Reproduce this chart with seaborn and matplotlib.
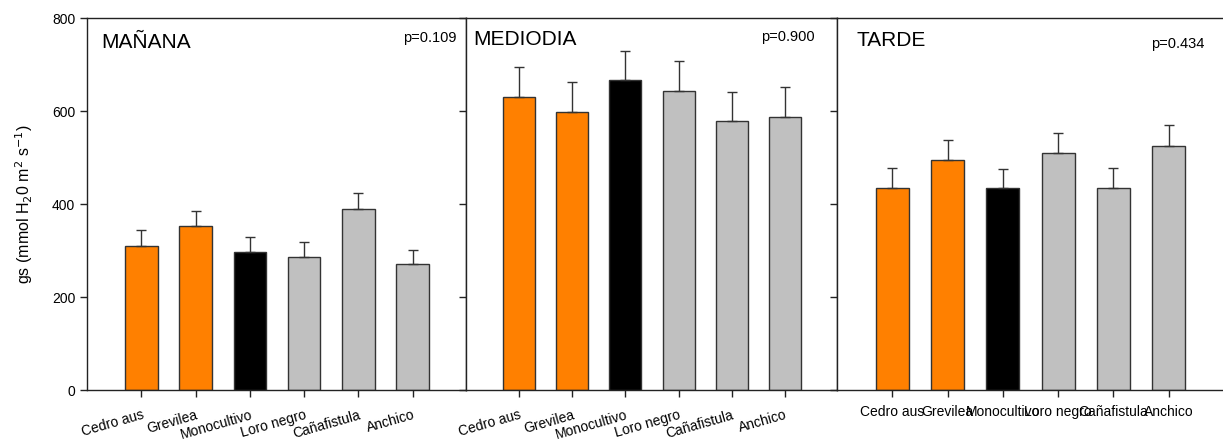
import numpy as np
import matplotlib
matplotlib.use("Agg")
import matplotlib.pyplot as plt
import seaborn as sns

sns.set_style("white")
plt.rcParams['font.family'] = ['Liberation Sans', 'DejaVu Sans']
plt.rcParams['text.color'] = 'black'
plt.rcParams['xtick.color'] = 'black'
plt.rcParams['ytick.color'] = 'black'
plt.rcParams['axes.labelcolor'] = 'black'

# Data
species = ["Cedro aus", "Grevilea", "Monocultivo", "Loro negro", "Cañafistula", "Anchico"]
bar_colors = ["#FF8000", "#FF8000", "#000000", "#C0C0C0", "#C0C0C0", "#C0C0C0"]

periods = ["MAÑANA", "MEDIODIA", "TARDE"]
p_values = ["p=0.109", "p=0.900", "p=0.434"]

manana_mean = [310, 353, 297, 287, 389, 270]
manana_se = [34, 33, 33, 32, 34, 32]
mediodia_mean = [631, 598, 667, 644, 578, 588]
mediodia_se = [63, 64, 63, 63, 62, 63]
tarde_mean = [435, 495, 434, 510, 435, 525]
tarde_se = [43, 42, 41, 43, 42, 44]

means = [manana_mean, mediodia_mean, tarde_mean]
ses = [manana_se, mediodia_se, tarde_se]

fig, axes = plt.subplots(1, 3, figsize=(12.23, 4.40), dpi=100, sharey=True,
                         gridspec_kw={'width_ratios': [379, 371, 386]})
fig.subplots_adjust(left=0.0711, right=1.0, top=0.959, bottom=0.1136, wspace=0)

edge = "#333333"
title_pos = [(0.039, 0.935), (0.02, 0.943), (0.051, 0.94)]
p_pos = [(0.974, 0.947), (0.94, 0.949), (0.951, 0.93)]

for i, ax in enumerate(axes):
    sns.barplot(x=species, y=means[i], hue=species, palette=bar_colors, legend=False,
                width=0.6, saturation=1, edgecolor=edge, linewidth=1, ax=ax)
    x = np.arange(len(species))
    ax.errorbar(x, means[i], yerr=[np.zeros(len(species)), ses[i]], fmt='none',
                ecolor=edge, elinewidth=1, capsize=3.5, capthick=1)
    ax.set_xlim(-1, 5.98)
    ax.set_ylim(0, 800)
    ax.set_yticks([0, 200, 400, 600, 800])
    for s in ax.spines.values():
        s.set_color("#222222")
        s.set_linewidth(1)
    ax.tick_params(axis='both', direction='out', length=5, width=1, color="#222222",
                   labelsize=10, bottom=True, left=True)
    ax.text(title_pos[i][0], title_pos[i][1], periods[i], transform=ax.transAxes,
            fontsize=15, va='center', ha='left')
    ax.text(p_pos[i][0], p_pos[i][1], p_values[i], transform=ax.transAxes, fontsize=10.5,
            va='center', ha='right')
    ax.set_xticks(x)
    if i < 2:
        ax.set_xticklabels(species, rotation=16, ha='right', rotation_mode='anchor')
        ax.tick_params(axis='x', pad=8)
    else:
        ax.set_xticklabels(species, rotation=0, ha='center')
        ax.spines['right'].set_visible(False)
        ax.tick_params(axis='x', pad=6)
    ax.set_xlabel("")

axes[0].set_ylabel("gs (mmol H$_2$0 m$^2$ s$^{-1}$)", fontsize=11.5, labelpad=12)
for ax in axes[1:]:
    ax.set_ylabel("")
    ax.tick_params(axis='y', labelleft=False)

fig.savefig("out.png", dpi=100)
